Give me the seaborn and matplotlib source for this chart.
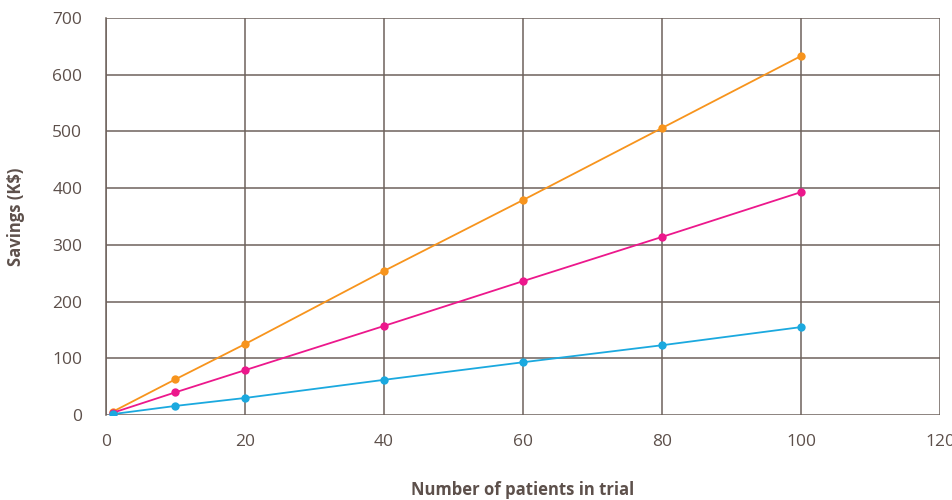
import pandas as pd
import seaborn as sns
import matplotlib.pyplot as plt

# dados
patients = [1, 10, 20, 40, 60, 80, 100]
savings_high = [6, 63, 125, 254, 379, 506, 633]
savings_mid = [4, 40, 79, 157, 236, 314, 393]
savings_low = [1.6, 16, 30, 62, 93, 123, 155]

series_names = ['high', 'mid', 'low']
colors = ['#f7941d', '#ec188c', '#1ba9df']

df = pd.DataFrame({
    'patients': patients * 3,
    'savings': savings_high + savings_mid + savings_low,
    'series': [s for s in series_names for _ in patients],
})

sns.set_style('white')
plt.rcParams['font.family'] = ['Open Sans', 'DejaVu Sans']

fig = plt.figure(figsize=(9.53, 5.0), dpi=100)
ax = fig.add_axes([0.1112, 0.17, 0.8752, 0.794])

sns.lineplot(data=df, x='patients', y='savings', hue='series', palette=colors,
             marker='o', markersize=6, markeredgewidth=0, linewidth=1.3,
             legend=False, ax=ax, zorder=3)

grid_col = '#6e625c'
text_col = '#5d504b'
ax.set_xlim(0, 120)
ax.set_ylim(0, 700)
ax.set_xticks(range(0, 121, 20))
ax.set_yticks(range(0, 701, 100))
ax.grid(True, color=grid_col, linewidth=1.1)
for side in ['top', 'right', 'bottom']:
    ax.spines[side].set_visible(False)
ax.spines['left'].set_color(grid_col)
ax.spines['left'].set_linewidth(1.1)
ax.tick_params(axis='y', length=3, color=grid_col, labelsize=12.5, labelcolor=text_col, pad=14)
ax.tick_params(axis='x', length=0, labelsize=12.5, labelcolor=text_col, pad=14)

ax.set_xlabel('Number of patients in trial', fontsize=12, fontweight='bold', color=text_col)
ax.set_ylabel('Savings (K$)', fontsize=12, fontweight='bold', color=text_col)
ax.xaxis.set_label_coords(0.5, -0.165)
ax.yaxis.set_label_coords(-0.097, 0.5)

plt.savefig('out.png', dpi=100)
